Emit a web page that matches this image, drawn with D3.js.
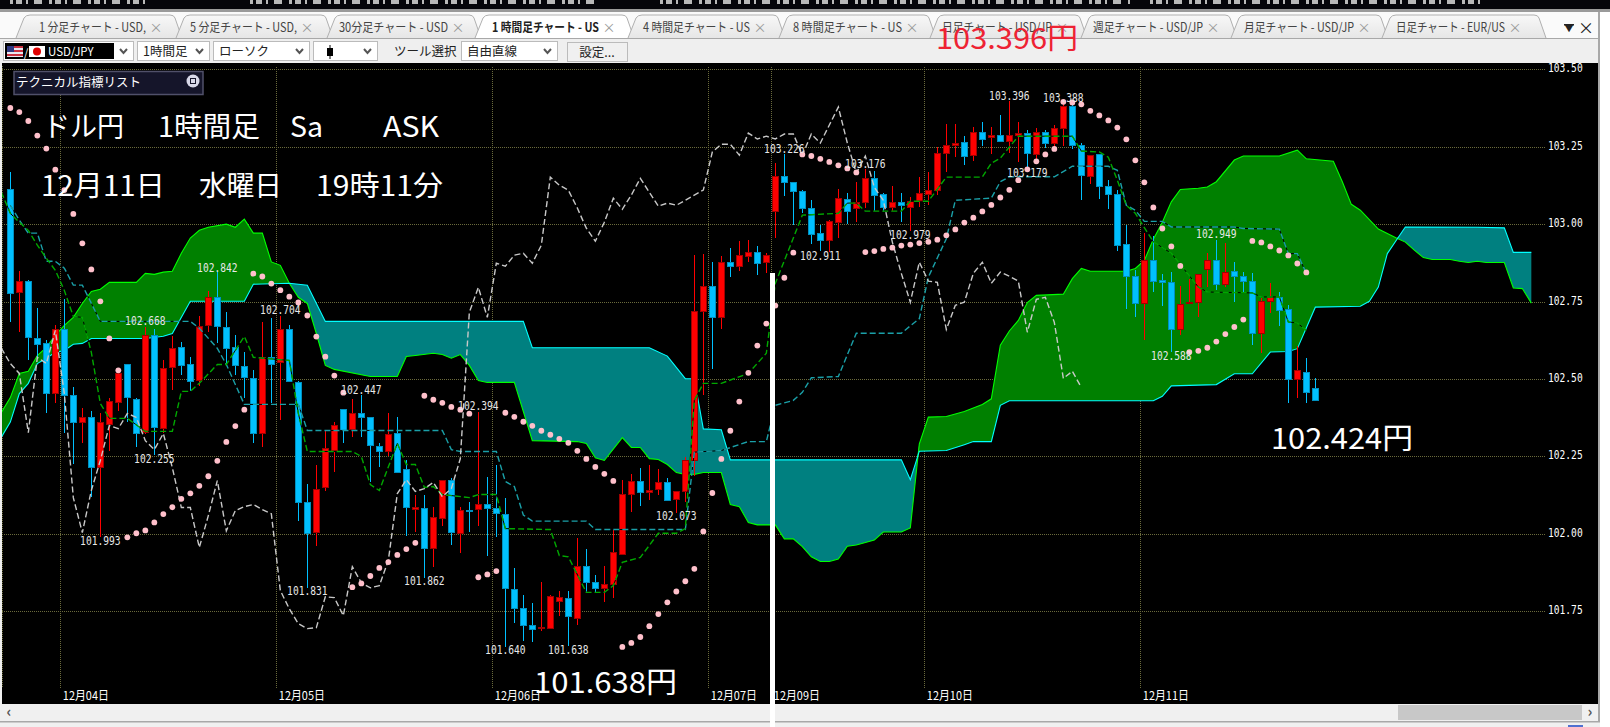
<!DOCTYPE html>
<html><head><meta charset="utf-8">
<script src="https://cdn.jsdelivr.net/npm/d3@7"></script>
<style>
html,body{margin:0;padding:0;background:#fff;overflow:hidden}
svg{display:block}
text{font-family:"Noto Sans CJK JP","Noto Sans",sans-serif}
.mono{font-family:"DejaVu Sans Mono","Liberation Mono",monospace}
</style></head><body>
<div id="c"></div>
<script>
const open=[103.113,102.780,102.816,102.634,102.615,102.453,102.660,102.447,102.360,102.376,
102.214,102.353,102.428,102.547,102.437,102.327,102.641,102.343,102.537,102.602,
102.547,102.495,102.673,102.764,102.667,102.602,102.541,102.502,102.324,102.570,
102.554,102.660,102.489,102.104,102.007,102.150,102.269,102.402,102.337,102.389,
102.376,102.285,102.269,102.327,102.208,102.082,102.085,101.956,102.052,102.175,
102.004,102.078,102.078,102.095,102.082,102.065,101.823,101.762,101.707,101.697,
101.697,101.784,101.794,101.729,101.897,101.846,101.826,101.839,101.936,102.130,
102.172,102.137,102.146,102.169,102.114,102.137,102.237,102.719,102.799,102.699,
102.877,102.864,102.896,102.909,102.877,103.042,103.155,103.136,103.106,103.052,
102.971,102.948,103.006,103.081,103.052,103.071,103.149,103.097,103.055,103.071,
103.055,103.074,103.097,103.110,103.229,103.255,103.265,103.223,103.297,103.281,
103.288,103.268,103.288,103.294,103.226,103.297,103.262,103.310,103.381,103.255,
103.155,103.226,103.123,103.097,102.935,102.832,102.744,102.883,102.819,102.812,
102.660,102.744,102.748,102.854,102.883,102.806,102.848,102.832,102.816,102.647,
102.751,102.764,102.725,102.499,102.524,102.470];
const close=[102.777,102.816,102.634,102.615,102.453,102.660,102.447,102.360,102.376,102.214,
102.360,102.428,102.521,102.440,102.327,102.641,102.343,102.537,102.599,102.544,
102.492,102.670,102.764,102.670,102.599,102.544,102.505,102.324,102.570,102.547,
102.660,102.492,102.101,102.004,102.146,102.276,102.350,102.334,102.389,102.376,
102.285,102.269,102.324,102.201,102.085,102.088,101.956,102.056,102.175,102.007,
102.078,102.075,102.095,102.082,102.065,101.826,101.762,101.707,101.694,101.700,
101.800,101.797,101.736,101.897,101.846,101.826,101.839,101.943,102.130,102.172,
102.137,102.143,102.169,102.111,102.140,102.237,102.719,102.799,102.699,102.877,
102.864,102.900,102.909,102.874,102.900,103.155,103.136,103.106,103.052,102.967,
102.948,103.009,103.084,103.042,103.071,103.149,103.094,103.055,103.071,103.061,
103.074,103.100,103.110,103.229,103.255,103.262,103.220,103.297,103.275,103.288,
103.268,103.288,103.294,103.229,103.297,103.262,103.310,103.381,103.255,103.158,
103.223,103.123,103.097,102.932,102.832,102.744,102.883,102.816,102.812,102.660,
102.741,102.748,102.838,102.883,102.806,102.845,102.832,102.816,102.647,102.751,
102.764,102.722,102.499,102.528,102.460,102.431];
const high=[103.168,102.848,102.819,102.728,102.625,102.673,102.757,102.473,102.405,102.398,
102.389,102.440,102.534,102.547,102.440,102.667,102.660,102.560,102.638,102.618,
102.570,102.702,102.783,102.845,102.715,102.641,102.586,102.528,102.683,102.696,
102.702,102.673,102.495,102.162,102.221,102.331,102.360,102.402,102.437,102.447,
102.376,102.292,102.389,102.376,102.237,102.124,102.124,102.088,102.175,102.182,
102.088,102.104,102.395,102.185,102.221,102.117,101.891,101.804,101.778,101.846,
101.804,101.817,101.817,101.988,101.952,101.868,101.897,102.014,102.175,102.192,
102.214,102.221,102.208,102.182,102.140,102.247,102.900,102.903,102.877,102.896,
102.922,102.945,102.948,102.929,102.906,103.197,103.226,103.136,103.110,103.077,
102.997,103.013,103.113,103.100,103.136,103.178,103.171,103.100,103.123,103.100,
103.087,103.152,103.168,103.249,103.323,103.323,103.284,103.313,103.330,103.313,
103.352,103.397,103.330,103.304,103.310,103.304,103.320,103.388,103.394,103.262,
103.223,103.226,103.142,103.110,102.997,102.851,102.971,102.961,102.838,102.845,
102.799,102.822,102.838,102.906,102.948,102.938,102.877,102.845,102.841,102.761,
102.809,102.780,102.738,102.605,102.567,102.502];
const low=[102.683,102.651,102.560,102.567,102.389,102.424,102.327,102.227,102.292,102.120,
101.991,102.269,102.398,102.360,102.282,102.324,102.255,102.327,102.463,102.512,
102.460,102.479,102.651,102.615,102.550,102.512,102.440,102.295,102.282,102.424,
102.369,102.492,102.040,101.826,101.962,102.140,102.201,102.295,102.314,102.314,
102.169,102.217,102.253,102.201,101.994,102.007,101.859,101.894,102.027,101.965,
101.939,102.007,102.027,101.930,101.991,101.636,101.713,101.655,101.652,101.687,
101.697,101.736,101.638,101.707,101.810,101.810,101.781,101.794,101.936,102.072,
102.091,102.108,102.124,102.108,102.069,102.104,102.188,102.450,102.531,102.660,
102.828,102.848,102.877,102.835,102.841,102.955,103.090,102.997,103.035,102.935,
102.912,102.909,102.955,103.000,103.006,103.052,103.042,103.039,103.042,103.006,
102.977,103.055,103.061,103.094,103.168,103.216,103.191,103.203,103.252,103.226,
103.268,103.229,103.200,103.168,103.197,103.246,103.249,103.252,103.242,103.077,
103.129,103.081,103.048,102.913,102.725,102.699,102.625,102.780,102.735,102.586,
102.641,102.744,102.699,102.796,102.786,102.796,102.748,102.780,102.609,102.583,
102.712,102.670,102.421,102.440,102.424,102.428];

const sar=[103.375,103.362,103.333,103.286,103.244,103.176,103.110,103.033,102.938,102.854,102.751,102.631,102.528,
101.989,102.002,102.011,102.037,102.064,102.086,102.113,102.131,102.155,102.186,102.236,102.297,102.348,102.401,
102.840,102.831,102.808,102.787,102.766,102.747,102.705,102.637,102.572,102.511,102.456,
101.828,101.840,101.864,101.890,101.909,101.932,101.951,101.971,
102.446,102.433,102.423,102.410,102.401,102.388,
101.860,101.869,101.880,
102.391,102.378,102.362,102.349,102.333,102.320,102.307,102.294,102.268,102.242,102.216,102.194,102.171,
101.635,101.648,101.667,101.702,101.741,101.779,101.814,101.847,101.887,102.008,102.132,102.242,102.333,102.427,102.520,102.608,102.679,102.737,102.827,102.908,
103.225,103.220,103.211,103.201,103.190,103.180,103.167,
102.910,102.913,102.920,102.924,102.931,102.934,102.939,102.943,102.950,102.964,102.983,103.005,103.021,103.041,103.062,103.086,103.111,103.142,103.177,103.203,103.225,103.243,
103.395,103.393,103.387,103.366,103.351,103.335,103.312,103.274,103.206,103.135,103.054,102.986,102.928,102.865,
102.587,102.591,102.601,102.621,102.645,102.668,102.692,
102.946,102.941,102.928,102.915,102.899,102.873,102.844];

const chikou=[102.599,102.550,102.518,102.327,102.570,102.550,102.657,102.453,102.117,102.004,102.140,
102.237,102.350,102.340,102.389,102.376,102.301,102.272,102.324,102.214,102.085,
102.085,101.956,102.059,102.172,102.010,102.075,102.088,102.095,102.078,102.065,
101.817,101.758,101.710,101.694,101.697,101.797,101.794,101.736,101.894,101.842,
101.826,101.833,101.914,102.130,102.175,102.137,102.146,102.166,102.120,102.146,
102.243,102.715,102.796,102.699,102.874,102.864,102.900,102.906,102.874,102.932,
103.152,103.126,103.110,103.052,102.987,102.945,103.006,103.084,103.048,103.094,
103.148,103.103,103.058,103.068,103.061,103.077,103.094,103.110,103.233,103.258,
103.258,103.223,103.294,103.275,103.284,103.275,103.291,103.291,103.223,103.291,
103.262,103.320,103.378,103.262,103.165,103.220,103.119,103.077,102.942,102.841,
102.748,102.877,102.816,102.812,102.660,102.738,102.748,102.841,102.877,102.809,
102.845,102.832,102.816,102.651,102.757,102.764,102.683,102.502,102.525,102.473];

const spanABars=[-1,0,1,2,3,4,5,6,7,8,9,10,11,14,15,16,17,18,19,20,21,22,24,25,26,27,28,29,30,31,32,33,34,35,36,40,43,44,45,47,48,49,50,51,52,53,56,58,63,64,65,66,68,69,70,71,72,73,74,75,76,77,79,80,81,82,83,85,86,87,88,89,90,91,92,93,94,96,97,99,100,101,102,104,106,108,109,110,111,112,113,114,117,118,119,120,124,125,126,127,128,129,130,132,133,134,136,137,141,143,144,147,148,149,150,152,154,155,156,157,158,160,161,162,163,164,166,167,168,169];
const spanAValues=[102.392,102.440,102.518,102.525,102.576,102.602,102.641,102.673,102.699,102.744,102.783,102.790,102.812,102.812,102.841,102.838,102.845,102.848,102.906,102.955,102.980,102.990,103.000,102.990,103.016,102.971,102.971,102.878,102.867,102.809,102.764,102.744,102.647,102.544,102.531,102.508,102.508,102.573,102.576,102.583,102.579,102.567,102.579,102.544,102.495,102.489,102.489,102.301,102.298,102.292,102.246,102.237,102.311,102.279,102.279,102.243,102.240,102.224,102.198,102.192,102.192,102.198,102.198,102.095,102.088,102.037,102.029,102.029,101.984,101.984,101.959,101.926,101.911,101.911,101.919,101.960,101.964,101.980,102.006,102.006,102.019,102.291,102.377,102.379,102.395,102.418,102.436,102.609,102.655,102.689,102.747,102.770,102.774,102.824,102.857,102.848,102.848,102.857,102.883,102.951,103.006,103.072,103.112,103.116,103.120,103.137,103.207,103.220,103.220,103.239,103.211,103.203,103.137,103.064,103.045,102.984,102.955,102.942,102.916,102.892,102.886,102.886,102.880,102.876,102.880,102.876,102.876,102.794,102.792,102.745];
const spanBBars=[-1,0,1,2,3,4,5,6,7,8,9,15,17,18,20,26,27,31,33,35,57,58,71,73,75,76,77,79,80,99,100,101,104,106,107,109,110,111,127,128,129,134,136,138,140,142,143,145,150,151,152,153,154,155,163,166,167,169];
const spanBValues=[102.312,102.361,102.453,102.486,102.550,102.567,102.586,102.592,102.612,102.615,102.631,102.631,102.638,102.647,102.751,102.751,102.806,102.809,102.803,102.686,102.686,102.601,102.601,102.574,102.501,102.501,102.339,102.336,102.239,102.239,102.175,102.267,102.269,102.288,102.298,102.298,102.415,102.430,102.430,102.444,102.478,102.482,102.517,102.517,102.587,102.589,102.598,102.732,102.735,102.751,102.797,102.905,102.948,102.991,102.990,102.988,102.909,102.909];

const kijunBars=[0,1,2,3,4,5,6,7,8,10,20,21,23,24,26,32,33,48,49,50,54,55,56,57,58,64,65,75,76,79,82,84,85,87,88,89,92,94,99,101,102,104,105,109,110,111,116,118,122,123,124,125,126,128,129,136,137,141,142,143,144];
const kijunValues=[103.061,103.013,102.971,102.971,102.880,102.880,102.858,102.803,102.803,102.686,102.686,102.664,102.599,102.547,102.418,102.418,102.334,102.334,102.272,102.266,102.266,102.169,102.153,102.061,102.041,102.041,102.014,102.014,102.264,102.269,102.298,102.298,102.415,102.431,102.457,102.504,102.508,102.648,102.648,102.695,102.829,102.953,103.077,103.084,103.137,103.153,103.153,103.187,103.187,103.174,103.061,103.045,103.009,103.009,102.991,102.991,102.986,102.984,102.905,102.905,102.841];
const tenkanBars=[-1,0,1,2,3,4,5,6,7,8,9,10,11,13,15,18,19,20,21,23,24,26,27,31,32,33,38,39,40,41,43,44,45,46,47,48,51,52,54,55,60,61,62,64,66,67,68,70,72,74,75,76,77,79,82,84,85,87,88,92,93,94,95,99,100,102,104,108,109,110,112,118,119,121,122,123,124,125,127,129,132,133,138,139,141,142,143,144];
const tenkanValues=[103.103,103.035,103.006,102.980,102.932,102.890,102.851,102.786,102.702,102.699,102.586,102.421,102.373,102.373,102.331,102.331,102.460,102.460,102.486,102.547,102.547,102.638,102.570,102.560,102.389,102.266,102.266,102.250,102.159,102.140,102.292,102.224,102.224,102.150,102.153,102.127,102.117,102.127,102.127,102.017,102.014,101.930,101.926,101.811,101.811,101.833,101.908,101.924,102.002,102.002,102.017,102.431,102.486,102.486,102.518,102.583,102.809,102.955,103.029,103.035,103.068,103.068,103.042,103.042,103.074,103.074,103.152,103.152,103.197,103.213,103.284,103.284,103.236,103.233,103.216,103.142,103.061,103.035,102.943,102.906,102.797,102.781,102.778,102.765,102.765,102.684,102.681,102.657];

const priceTicks=[103.5,103.25,103,102.75,102.5,102.25,102,101.75];
const dateBars=[6,30,54,78,85,102,126];
const dateLabels=["12月04日","12月05日","12月06日","12月07日","12月09日","12月10日","12月11日"];
const highLabels=[["102.668",15],["102.842",23],["102.704",30],["102.447",39],["102.394",52],["103.226",86],["103.176",95],["103.396",111],["103.388",117],["102.949",134]];
const lowLabels=[["101.993",10],["102.255",16],["101.831",33],["101.862",46],["101.640",55],["101.638",62],["102.073",74],["102.911",90],["102.979",100],["103.179",113],["102.588",129]];
const tabLabels=["1 分足チャート - USD,","5 分足チャート - USD,","30分足チャート - USD","1 時間足チャート - US","4 時間足チャート - US","8 時間足チャート - US","日足チャート - USD/JP","週足チャート - USD/JP","月足チャート - USD/JP","日足チャート - EUR/US"];

const W=1610,H=727;
const svg=d3.select("#c").append("svg").attr("width",W).attr("height",H).attr("viewBox",`0 0 ${W} ${H}`);
const x=d3.scaleLinear().domain([0,145]).range([10.33,1315.33]);
const y=d3.scaleLinear().domain([103.5,101.75]).range([69.3,611.3]);

/* window chrome */
const chrome=svg.append("g");
chrome.append("rect").attr("width",W).attr("height",H).attr("fill","#f0f0f0");
chrome.append("rect").attr("width",W).attr("height",9).attr("fill","#05050a");
[[10,150],[250,600],[660,1130],[1150,1480]].forEach(r=>chrome.append("line").attr("x1",r[0]).attr("x2",r[1]).attr("y1",2).attr("y2",2)
 .attr("stroke","#b8b8b8").attr("stroke-width",4).attr("stroke-dasharray","3 3 6 4 2 6 8 7"));
chrome.append("rect").attr("y",9).attr("width",W).attr("height",3).attr("fill","#9a9a9a");
chrome.append("rect").attr("y",12).attr("width",W).attr("height",27).attr("fill","#fafafa");
const tabEdges=[16,176,327,475,628,779,930,1081,1231,1382,1540];
const tabTextX=[39,190,339,492,643,793,942,1093,1244,1396];
const tabClose=[156,307,458,609,760,912,1062,1213,1364,1515];
const defs=svg.append("defs");
const grad=defs.append("linearGradient").attr("id","tg").attr("x2",0).attr("y2",1);
grad.append("stop").attr("offset",0).attr("stop-color","#f8f8f8");
grad.append("stop").attr("offset",1).attr("stop-color","#e6e6e6");
tabLabels.forEach((t,i)=>{
 const a=tabEdges[i],b=tabEdges[i+1],act=i===3;
 chrome.append("path").attr("d",`M${a},38 L${a+8},18 Q${a+10},15 ${a+14},15 L${b-6},15 Q${b-2},15 ${b-1},18 L${b+6},38`)
  .attr("fill",act?"#fff":"url(#tg)").attr("stroke","#b0b0b0");
 chrome.append("text").attr("x",tabTextX[i]).attr("y",32).attr("font-size",12.5).attr("fill",act?"#222":"#444").attr("font-weight",act?700:400)
  .attr("textLength",tabClose[i]-tabTextX[i]-10).attr("lengthAdjust","spacingAndGlyphs").text(t);
 chrome.append("text").attr("x",tabClose[i]).attr("y",32).attr("text-anchor","middle").attr("font-size",13).attr("fill","#999").text("×");
});
chrome.append("text").attr("x",1569).attr("y",32).attr("text-anchor","middle").attr("font-size",9).attr("fill","#222").text("▼");
chrome.append("rect").attr("x",1564).attr("y",24).attr("width",10).attr("height",1.5).attr("fill","#222");
chrome.append("text").attr("x",1586).attr("y",34).attr("text-anchor","middle").attr("font-size",16).attr("fill","#222").text("×");
chrome.append("rect").attr("y",38).attr("width",W).attr("height",1).attr("fill","#a8a8a8");
chrome.append("rect").attr("y",39).attr("width",W).attr("height",24).attr("fill","#efefef");
const boxes=[[3,133,""],[137,209,"1時間足"],[213,309,"ローソク"],[313,377,""],[461,557,"自由直線"]];
boxes.forEach(b=>{
 chrome.append("rect").attr("x",b[0]+.5).attr("y",41.5).attr("width",b[1]-b[0]).attr("height",19).attr("fill","#fff").attr("stroke","#bbb");
 chrome.append("text").attr("x",b[0]+6).attr("y",56).attr("font-size",12.5).attr("fill","#222").text(b[2]);
 chrome.append("path").attr("d",`M${b[1]-13},49 l3.5,4 l3.5,-4`).attr("fill","none").attr("stroke","#555").attr("stroke-width",2);
});
chrome.append("rect").attr("x",5).attr("y",43).attr("width",109).attr("height",16).attr("fill","#000");
chrome.append("rect").attr("x",7).attr("y",46).attr("width",16).attr("height",11).attr("fill","#e8e8f0");
[46,50,54].forEach(v=>chrome.append("rect").attr("x",7).attr("y",v).attr("width",16).attr("height",2).attr("fill","#c83040"));
chrome.append("rect").attr("x",7).attr("y",46).attr("width",7).attr("height",6).attr("fill","#303880");
chrome.append("text").attr("x",24).attr("y",57).attr("font-size",11).attr("fill","#fff").text("/");
chrome.append("rect").attr("x",29).attr("y",46).attr("width",16).attr("height",11).attr("fill","#fff");
chrome.append("circle").attr("cx",37).attr("cy",51.5).attr("r",4).attr("fill","#e00000");
chrome.append("text").attr("x",48).attr("y",56).attr("font-size",11.5).attr("fill","#fff").text("USD/JPY");
chrome.append("rect").attr("x",327).attr("y",48).attr("width",6).attr("height",8).attr("fill","#000");
chrome.append("line").attr("x1",330).attr("x2",330).attr("y1",45).attr("y2",59).attr("stroke","#000");
chrome.append("text").attr("x",394).attr("y",56).attr("font-size",12.5).attr("fill","#222").text("ツール選択");
chrome.append("rect").attr("x",567.5).attr("y",42.5).attr("width",60).attr("height",19).attr("fill","#f0f0f0").attr("stroke","#bbb");
chrome.append("text").attr("x",597).attr("y",57).attr("text-anchor","middle").attr("font-size",12.5).attr("fill","#222").text("設定...");

/* chart area */
chrome.append("rect").attr("x",2).attr("y",63).attr("width",1596).attr("height",641).attr("fill","#000");
chrome.append("rect").attr("x",1598).attr("y",12).attr("width",2).attr("height",710).attr("fill","#a8a8a8");
chrome.append("rect").attr("x",1600).attr("y",12).attr("width",10).attr("height",715).attr("fill","#fff");
chrome.append("rect").attr("y",721).attr("width",1600).attr("height",1.5).attr("fill","#a8a8a8");
chrome.append("rect").attr("x",1398).attr("y",705).attr("width",184).attr("height",15).attr("fill","#c8c8c8");
chrome.append("text").attr("x",9).attr("y",717).attr("text-anchor","middle").attr("font-size",15).attr("font-weight",700).attr("fill","#555").text("‹");
chrome.append("text").attr("x",1590).attr("y",717).attr("text-anchor","middle").attr("font-size",15).attr("font-weight",700).attr("fill","#555").text("›");
chrome.append("rect").attr("x",1568).attr("y",725).attr("width",15).attr("height",2).attr("fill","#5070d0");

defs.append("clipPath").attr("id","plot").append("rect").attr("x",2).attr("y",63).attr("width",1596).attr("height",641);
const plot=svg.append("g").attr("clip-path","url(#plot)");

/* grid + axes */
const GRID="#6a6a3c";
const axisY=d3.axisRight(y).tickValues(priceTicks).tickFormat(d3.format(".2f")).tickSize(-1543).tickPadding(0);
const gy=plot.append("g").attr("transform","translate(1545,0)").call(axisY);
gy.select(".domain").remove();
gy.selectAll("line").attr("stroke",GRID).attr("stroke-dasharray","1 1").attr("shape-rendering","crispEdges");
gy.selectAll("text").attr("class","mono").attr("font-size",12).attr("fill","#fff")
  .attr("text-anchor","start").attr("dy",0).attr("y",2.5).attr("transform","scale(.8,1)")
  .each(function(){d3.select(this).attr("x",3/.8)});
const axisX=d3.axisBottom(x).tickValues(dateBars).tickFormat((d,i)=>dateLabels[i]).tickSize(-622).tickPadding(0);
const gx=plot.append("g").attr("transform","translate(-4,688)").call(axisX);
gx.select(".domain").remove();
gx.selectAll("line").attr("stroke",GRID).attr("stroke-dasharray","1 1").attr("shape-rendering","crispEdges");
gx.selectAll("text").attr("font-size",12).attr("fill","#fff").attr("text-anchor","start").attr("x",2).attr("y",1).attr("dy",".95em")
  .attr("textLength",46).attr("lengthAdjust","spacingAndGlyphs");
plot.append("line").attr("x1",2.5).attr("x2",2.5).attr("y1",66).attr("y2",688).attr("stroke",GRID).attr("stroke-dasharray","1 1");

/* cloud */
const aAt=d3.scaleLinear().domain(spanABars).range(spanAValues);
const bAt=d3.scaleLinear().domain(spanBBars).range(spanBValues);
const ts=d3.range(-1,169.001,0.25);
const bull=d3.area().x(t=>x(t)).y0(t=>y(bAt(t))).y1(t=>y(Math.max(aAt(t),bAt(t))));
const bear=d3.area().x(t=>x(t)).y0(t=>y(aAt(t))).y1(t=>y(Math.max(aAt(t),bAt(t))));
plot.append("path").attr("d",bull(ts)).attr("fill","#008000");
plot.append("path").attr("d",bear(ts)).attr("fill","#008080");
const sparseLine=d3.line().x(d=>x(d[0])).y(d=>y(d[1]));
const zipped=(b,v)=>b.map((k,i)=>[k,v[i]]);
plot.append("path").attr("d",sparseLine(zipped(spanABars,spanAValues))).attr("fill","none").attr("stroke","#00ff00").attr("stroke-width",1.1);
plot.append("path").attr("d",sparseLine(zipped(spanBBars,spanBValues))).attr("fill","none").attr("stroke","#00ffff").attr("stroke-width",1.1);

/* candles */
const idx=d3.range(open.length);
const cg=plot.append("g");
cg.selectAll("line").data(idx).join("line")
  .attr("x1",i=>Math.round(x(i))+.5).attr("x2",i=>Math.round(x(i))+.5)
  .attr("y1",i=>y(high[i])).attr("y2",i=>y(low[i]))
  .attr("stroke",i=>close[i]>=open[i]?"#ff0000":"#00c0ff").attr("stroke-width",1).attr("shape-rendering","crispEdges");
cg.selectAll("rect").data(idx).join("rect")
  .attr("x",i=>Math.round(x(i))-2.5).attr("width",6)
  .attr("y",i=>Math.round(y(Math.max(open[i],close[i])))+.5)
  .attr("height",i=>Math.max(1,Math.round(Math.abs(y(open[i])-y(close[i])))))
  .attr("fill",i=>close[i]>=open[i]?"#ff0000":"#00c0ff")
  .attr("stroke",i=>close[i]>=open[i]?"#a00000":"#0090c0").attr("shape-rendering","crispEdges");

/* ichimoku dashed lines */
const dashed=(pts,col)=>{
 plot.append("path").attr("d",sparseLine(pts)).attr("fill","none").attr("stroke",col).attr("stroke-width",1.4).attr("stroke-dasharray","6 3");
};
const under=(pts)=>plot.append("path").attr("d",sparseLine(pts)).attr("fill","none").attr("stroke","#000").attr("stroke-width",1);
const kij=zipped(kijunBars,kijunValues), ten=zipped(tenkanBars,tenkanValues);
under(kij);under(ten);
dashed(kij,"#1aa0a8");
dashed(ten,"#00a800");
dashed(chikou.map((v,i)=>[i-1,v]),"#c8c8c8");

/* parabolic SAR */
plot.append("g").selectAll("circle").data(sar).join("circle")
  .attr("cx",(d,i)=>x(i)).attr("cy",d=>y(d)).attr("r",2.9).attr("fill","#ffc0cb");

/* extreme labels */
const lab=plot.append("g");
const addLabels=(list,off)=>list.forEach(l=>{
  lab.append("text").attr("class","mono").attr("font-size",12).attr("fill","#e8e8e8").attr("text-anchor","middle")
   .attr("transform",`translate(${x(l[1])},${y(+l[0])+off+4.5}) scale(.8,1)`).text(l[0]);
});
addLabels(highLabels,-6);
addLabels(lowLabels,4);

/* indicator list box */
plot.append("rect").attr("x",14).attr("y",71.5).attr("width",189).attr("height",23).attr("fill","#15152a").attr("stroke","#50506a").attr("stroke-width",1.5);
plot.append("text").attr("x",16).attr("y",87).attr("font-size",12.5).attr("fill","#fff").text("テクニカル指標リスト");
plot.append("circle").attr("cx",193).attr("cy",81).attr("r",6.5).attr("fill","#d8d8e8");
plot.append("rect").attr("x",190).attr("y",78).attr("width",6).attr("height",6).attr("fill","#15152a");
plot.append("rect").attr("x",191).attr("y",79).attr("width",4).attr("height",4).attr("fill","#d8d8e8");

/* annotation text */
const big=(s,xp,yp,len,col,g,fs)=>(g||svg).append("text").attr("x",xp).attr("y",yp).attr("font-size",fs||28).attr("fill",col||"#fff")
  .attr("textLength",len).attr("lengthAdjust","spacingAndGlyphs").text(s);
big("ドル円",43,137,81);
big("1時間足",158,137,102);
big("Sa",290,137,33);
big("ASK",383,137,56);
big("12月11日",41,196,124);
big("水曜日",199,196,83);
big("19時11分",316,196,127);
big("102.424円",1271,449,142,"#fff",null,29);
big("101.638円",534,693,143,"#fff",null,29);

/* white marker line and red note sit on top */
svg.append("rect").attr("x",770).attr("y",273).attr("width",5).attr("height",454).attr("fill","#fff");
big("103.396円",936,49,142,"#ee2233",null,29);
</script>
</body></html>
